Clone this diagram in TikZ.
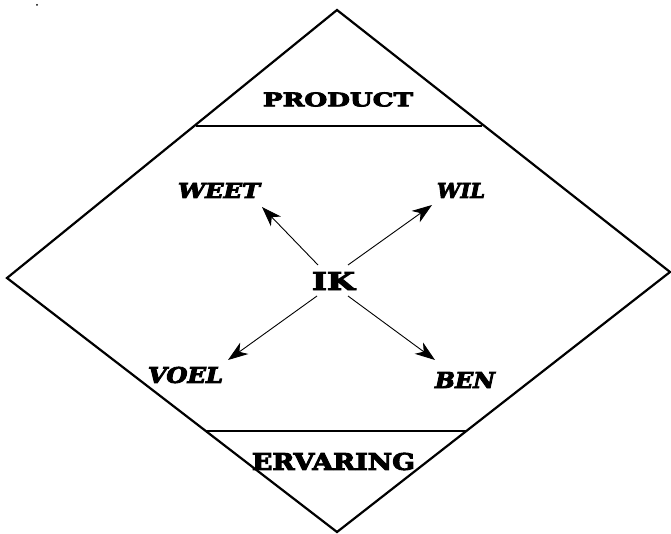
\documentclass[tikz,border=0pt]{standalone}
\usepackage{fontspec}
\setmainfont{DejaVu Serif}
\newfontfamily\heavy{DejaVu Serif Bold}[FakeBold=4]
\newfontfamily\heavyit{DejaVu Serif Bold Italic}[FakeBold=4]
\usepackage{graphicx}
\usetikzlibrary{arrows.meta}
\newcommand\fitlbl[3]{\resizebox{#1pt}{#2pt}{\heavy #3}}
\newcommand\fitit[3]{\resizebox{#1pt}{#2pt}{\heavyit #3}}
\begin{document}
\begin{tikzpicture}[x=1pt,y=-1pt,
  lbl/.style={inner sep=0pt,outer sep=0pt,anchor=center},
  frame/.style={line width=2.2pt,line join=miter},
  divider/.style={line width=1.5pt},
  arr/.style={line width=0.9pt,-{Stealth[length=20pt,width=14pt,inset=6pt]}}]
\useasboundingbox (0,0) rectangle (671,534);
% diamond
\coordinate (top) at (337,10);
\coordinate (left) at (7,278);
\coordinate (right) at (670,272);
\coordinate (bottom) at (337,532);
\draw[frame] (top) -- (right) -- (bottom) -- (left) -- cycle;
% dividers
\coordinate (d1l) at (196,126);
\coordinate (d1r) at (482,126);
\coordinate (d2l) at (206,431);
\coordinate (d2r) at (467,431);
\draw[divider] (d1l) -- (d1r);
\draw[divider] (d2l) -- (d2r);
% stray dot
\fill (37,5) circle (1pt);
% labels
\node[lbl] (product) at (338,99.5) {\fitlbl{150}{14}{PRODUCT}};
\node[lbl] (weet) at (219,190.5) {\fitit{82}{15}{WEET}};
\node[lbl] (wil) at (461,190.5) {\fitit{48}{15}{WIL}};
\node[lbl] (ik) at (333.5,281) {\fitlbl{43}{18}{IK}};
\node[lbl] (voel) at (185.5,375) {\fitit{75}{16}{VOEL}};
\node[lbl] (ben) at (465,380) {\fitit{60}{16}{BEN}};
\node[lbl] (ervaring) at (333.5,461.5) {\fitlbl{163}{17}{ERVARING}};
% arrows
\coordinate (s1) at (318,265);
\coordinate (s2) at (348,265);
\coordinate (s3) at (317,296);
\coordinate (s4) at (348,296);
\coordinate (t1) at (262,207);
\coordinate (t2) at (432,205);
\coordinate (t3) at (228,360);
\coordinate (t4) at (435,360);
\draw[arr] (s1) -- (t1);
\draw[arr] (s2) -- (t2);
\draw[arr] (s3) -- (t3);
\draw[arr] (s4) -- (t4);
\end{tikzpicture}
\end{document}
